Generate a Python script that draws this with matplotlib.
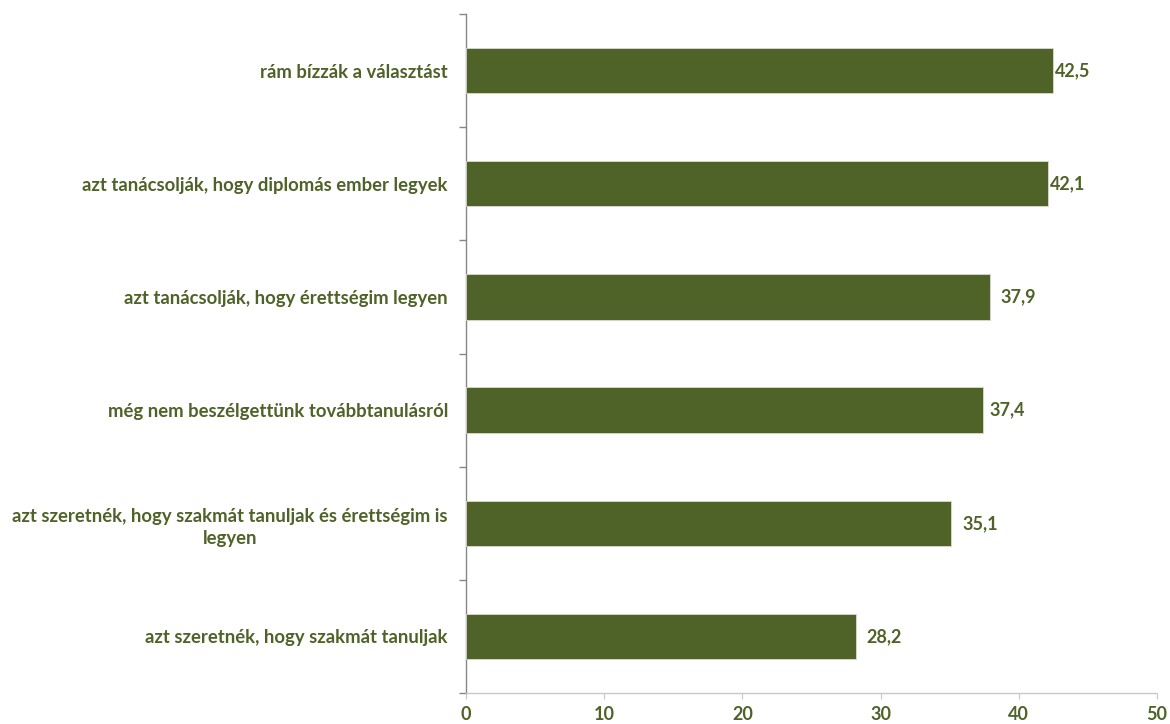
import matplotlib
matplotlib.use("Agg")
import matplotlib.pyplot as plt

categories = [
    "rám bízzák a választást",
    "azt tanácsolják, hogy diplomás ember legyek",
    "azt tanácsolják, hogy érettségim legyen",
    "még nem beszélgettünk továbbtanulásról",
    "azt szeretnék, hogy szakmát tanuljak és érettségim is\nlegyen",
    "azt szeretnék, hogy szakmát tanuljak",
]
values = [42.5, 42.1, 37.9, 37.4, 35.1, 28.2]
value_labels = ["42,5", "42,1", "37,9", "37,4", "35,1", "28,2"]
xticks = [0, 10, 20, 30, 40, 50]

# label offsets from bar end, in points (styling only)
label_offsets_pt = [1.5, 1.5, 8, 4.5, 8, 7.5]

bar_color = "#4F6228"
text_color = "#4F6228"
plt.rcParams['font.family'] = ['Lato', 'DejaVu Sans']

fig = plt.figure(figsize=(11.7, 7.24), dpi=100)
ax = fig.add_axes([466/1170, 1-693/724, (1157-466)/1170, (693-14)/724])

n = len(categories)
ypos = list(range(n))
ax.barh(ypos, values, height=0.4, color=bar_color, edgecolor="#d8dccf", linewidth=0.6, zorder=3)
ax.set_ylim(n - 0.5, -0.5)
ax.set_xlim(0, 50)

for y, v, lab, off in zip(ypos, values, value_labels, label_offsets_pt):
    ax.annotate(lab, xy=(v, y), xytext=(off, 0), textcoords="offset points",
                va="center", ha="left", fontsize=13,
                fontweight="bold", color=text_color)

ax.set_yticks(ypos)
ax.set_yticklabels(categories, fontsize=13.3, fontweight="bold", color=text_color,
                   multialignment="center", linespacing=1.35)
ax.tick_params(axis="y", length=0, pad=13)
# minor ticks at category boundaries
ax.set_yticks([i - 0.5 for i in range(n + 1)], minor=True)
ax.tick_params(axis="y", which="minor", length=5, color="#868686", width=1, direction="out")

ax.set_xticks(xticks)
ax.set_xticklabels([str(t) for t in xticks], fontsize=13, fontweight="bold", color=text_color)
ax.tick_params(axis="x", length=4, direction="out", color="#c8c8c8", pad=5)

for s in ["top", "right"]:
    ax.spines[s].set_visible(False)
ax.spines["left"].set_color("#868686")
ax.spines["left"].set_linewidth(1)
ax.spines["bottom"].set_color("#c8c8c8")
ax.spines["bottom"].set_linewidth(1)
ax.spines["bottom"].set_linestyle((0, (1, 1)))

fig.savefig("out.png", dpi=100)
